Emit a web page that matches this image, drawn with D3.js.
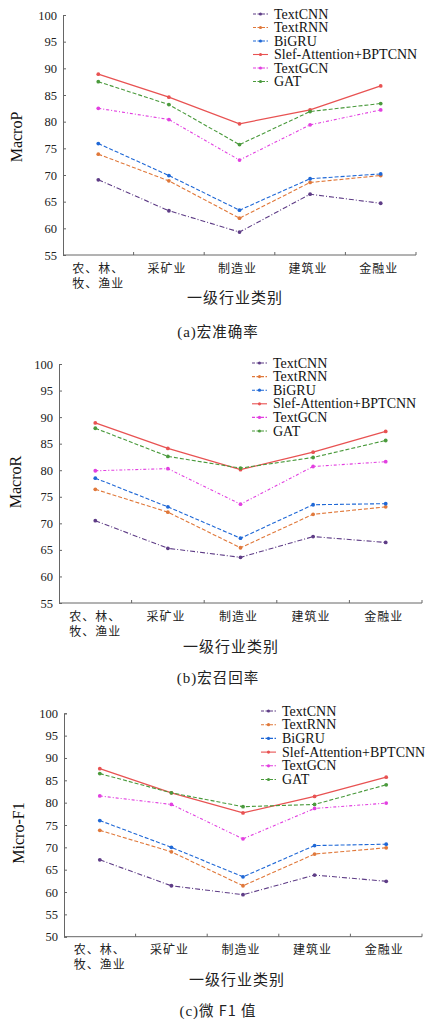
<!DOCTYPE html>
<html><head><meta charset="utf-8">
<script src="https://cdn.jsdelivr.net/npm/d3@7"></script>
<style>body{margin:0;background:#fff}svg{display:block}</style>
</head><body>
<svg id="chart" width="427" height="1019"></svg>
<script>
const categories = [["农、林、","牧、渔业"], ["采矿业"], ["制造业"], ["建筑业"], ["金融业"]];
const seriesNames = ["TextCNN", "TextRNN", "BiGRU", "Slef-Attention+BPTCNN", "TextGCN", "GAT"];
const seriesColors = ["#5e3c86", "#e0783a", "#1f68d6", "#e85252", "#e23fe0", "#4a9a3c"];
const seriesDash = ["5,2,1,2", "4,2", "4,2", null, "3,2,1,2", "4,2"];

const ticksA = [55, 60, 65, 70, 75, 80, 85, 90, 95, 100];
const ticksB = [55, 60, 65, 70, 75, 80, 85, 90, 95, 100];
const ticksC = [50, 55, 60, 65, 70, 75, 80, 85, 90, 95, 100];

// MacroP
const macroP_TextCNN = [69.1, 63.3, 59.3, 66.4, 64.7];
const macroP_TextRNN = [73.9, 68.9, 61.9, 68.6, 69.9];
const macroP_BiGRU   = [75.9, 69.9, 63.4, 69.3, 70.2];
const macroP_SelfAtt = [88.9, 84.6, 79.6, 82.2, 86.7];
const macroP_TextGCN = [82.5, 80.4, 72.8, 79.4, 82.2];
const macroP_GAT     = [87.5, 83.2, 75.7, 81.9, 83.4];
// MacroR
const macroR_TextCNN = [70.5, 65.3, 63.6, 67.5, 66.4];
const macroR_TextRNN = [76.4, 72.1, 65.4, 71.7, 73.1];
const macroR_BiGRU   = [78.5, 73.1, 67.2, 73.5, 73.7];
const macroR_SelfAtt = [88.9, 84.1, 80.1, 83.4, 87.3];
const macroR_TextGCN = [79.9, 80.3, 73.6, 80.7, 81.6];
const macroR_GAT     = [87.9, 82.6, 80.4, 82.4, 85.6];
// Micro-F1
const microF1_TextCNN = [67.2, 61.4, 59.4, 63.8, 62.4];
const microF1_TextRNN = [73.8, 69.0, 61.4, 68.5, 69.9];
const microF1_BiGRU   = [76.0, 70.0, 63.4, 70.4, 70.7];
const microF1_SelfAtt = [87.6, 82.2, 77.7, 81.4, 85.7];
const microF1_TextGCN = [81.5, 79.6, 71.9, 78.7, 79.9];
const microF1_GAT     = [86.5, 82.2, 79.1, 79.6, 84.0];

const svg = d3.select("#chart");
const latin = "'Liberation Serif', 'Times New Roman', serif";
const cjk = "'Noto Sans CJK SC', sans-serif";

function drawPanel(p) {
  const g = svg.append("g");
  const x = d3.scaleBand().domain(d3.range(categories.length)).range([p.left, p.right]);
  const y = d3.scaleLinear().domain([p.ticks[0], p.ticks[p.ticks.length - 1]]).range([p.bottom, p.top]);
  const axisColor = "#666";

  // y axis
  const ya = g.append("g").attr("transform", `translate(${p.left},0)`)
    .call(d3.axisLeft(y).tickValues(p.ticks).tickSize(-3).tickPadding(6));
  ya.select(".domain").attr("stroke", axisColor);
  ya.selectAll(".tick line").attr("stroke", axisColor);
  ya.selectAll(".tick text").attr("font-family", latin).attr("font-size", 12.5).attr("fill", "#222");

  // x axis
  g.append("line").attr("x1", p.left).attr("x2", p.right).attr("y1", p.bottom).attr("y2", p.bottom)
    .attr("stroke", axisColor);
  const edges = d3.range(1, categories.length + 1).map(i => p.left + i * x.step());
  g.selectAll(".xt").data(edges).join("line")
    .attr("x1", d => d).attr("x2", d => d).attr("y1", p.bottom).attr("y2", p.bottom - 3)
    .attr("stroke", axisColor);

  // category labels
  categories.forEach((lines, i) => {
    lines.forEach((t, j) => {
      g.append("text").attr("x", x(i) + x.bandwidth() / 2 + (lines.length > 1 ? 0 : -2))
        .attr("y", p.bottom + 17.5 + j * 15)
        .attr("text-anchor", "middle").attr("font-family", cjk).attr("font-size", 12)
        .attr("letter-spacing", 1).attr("fill", "#222").text(t);
    });
  });

  // axis titles
  g.append("text").attr("transform", `translate(${p.ylabX},${p.ylabY}) rotate(-90)`)
    .attr("text-anchor", "middle").attr("font-family", latin).attr("font-size", 16)
    .attr("fill", "#111").text(p.ylabel);
  g.append("text").attr("x", p.xtitleX).attr("y", p.xtitleY).attr("text-anchor", "middle")
    .attr("font-family", cjk).attr("font-size", 15).attr("letter-spacing", 1).attr("fill", "#222")
    .text("一级行业类别");
  const cap = g.append("text").attr("x", p.capX).attr("y", p.capY).attr("text-anchor", "middle")
    .attr("font-family", cjk).attr("font-size", 14.5).attr("letter-spacing", 1).attr("fill", "#222");
  cap.append("tspan").attr("font-family", latin).attr("font-size", 15).text(p.capPrefix);
  cap.append("tspan").text(p.caption);

  // series
  const line = d3.line().x((d, i) => x(i) + x.bandwidth() / 2).y(d => y(d));
  p.series.forEach((vals, k) => {
    g.append("path").datum(vals).attr("d", line).attr("fill", "none")
      .attr("stroke", seriesColors[k]).attr("stroke-width", k === 3 ? 1.3 : 1.1)
      .attr("stroke-dasharray", seriesDash[k]);
    g.selectAll(null).data(vals).join("circle")
      .attr("cx", (d, i) => x(i) + x.bandwidth() / 2).attr("cy", d => y(d)).attr("r", 1.9)
      .attr("fill", seriesColors[k]);
  });

  // legend
  seriesNames.forEach((name, k) => {
    const ly = p.legY + k * p.legStep;
    g.append("line").attr("x1", p.legX - 21).attr("x2", p.legX - 6).attr("y1", ly).attr("y2", ly)
      .attr("stroke", seriesColors[k]).attr("stroke-width", 1.1)
      .attr("stroke-dasharray", seriesDash[k] ? "3,1.5" : null);
    g.append("circle").attr("cx", p.legX - 13.5).attr("cy", ly).attr("r", 1.6).attr("fill", seriesColors[k]);
    g.append("text").attr("x", p.legX).attr("y", ly + 4.5).attr("font-family", latin)
      .attr("font-size", 14).attr("fill", "#111").text(name);
  });
}

drawPanel({left: 63, right: 416, top: 15, bottom: 255, ticks: ticksA,
  series: [macroP_TextCNN, macroP_TextRNN, macroP_BiGRU, macroP_SelfAtt, macroP_TextGCN, macroP_GAT],
  ylabel: "MacroP", ylabX: 22, ylabY: 137, xtitleX: 235, xtitleY: 303, capX: 218, capY: 337,
  capPrefix: "(a)", caption: "宏准确率", legX: 274, legY: 14, legStep: 13.5});
drawPanel({left: 59, right: 422, top: 364, bottom: 603, ticks: ticksB,
  series: [macroR_TextCNN, macroR_TextRNN, macroR_BiGRU, macroR_SelfAtt, macroR_TextGCN, macroR_GAT],
  ylabel: "MacroR", ylabX: 21, ylabY: 482, xtitleX: 231, xtitleY: 652, capX: 218, capY: 683,
  capPrefix: "(b)", caption: "宏召回率", legX: 273, legY: 363, legStep: 13.6});
drawPanel({left: 64, right: 422, top: 713.3, bottom: 936.7, ticks: ticksC,
  series: [microF1_TextCNN, microF1_TextRNN, microF1_BiGRU, microF1_SelfAtt, microF1_TextGCN, microF1_GAT],
  ylabel: "Micro-F1", ylabX: 24, ylabY: 833, xtitleX: 237, xtitleY: 985, capX: 218, capY: 1016,
  capPrefix: "(c)", caption: "微 F1 值", legX: 282, legY: 711, legStep: 13.7});
</script>
</body></html>
